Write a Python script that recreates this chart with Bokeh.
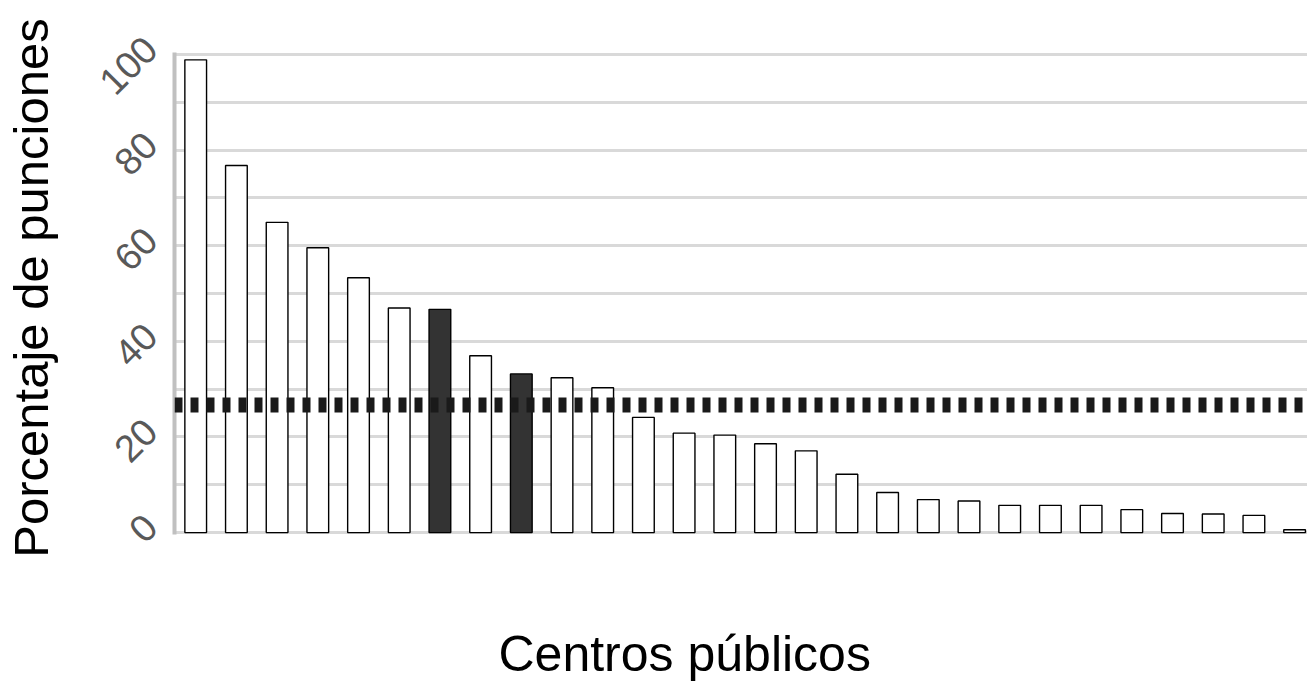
import math
from bokeh.plotting import figure
from bokeh.models import Range1d, FixedTicker, Span, LinearAxis, Title
from bokeh.embed import file_html
from bokeh.resources import INLINE

# ---- data ----
centros = [str(i) for i in range(1, 29)]
porcentajes = [98.9, 76.8, 64.9, 59.6, 53.3, 47.0, 46.7, 37.0, 33.2, 32.4,
               30.3, 24.1, 20.8, 20.4, 18.6, 17.1, 12.2, 8.4, 6.9, 6.6,
               5.7, 5.7, 5.7, 4.8, 4.0, 3.9, 3.6, 0.6]
destacados = ["7", "9"]
media = 26.7
ticks_y = [0, 20, 40, 60, 80, 100]
rejilla_y = [0, 10, 20, 30, 40, 50, 60, 70, 80, 90, 100]
titulo_x = "Centros públicos"
titulo_y = "Porcentaje de punciones"

FONT = "Liberation Sans"

xs = [i + 1 for i in range(len(centros))]
colores = ["#333333" if c in destacados else "white" for c in centros]

p = figure(width=1307, height=683, output_backend="svg", toolbar_location=None,
           x_range=Range1d(0.479, 28.317), y_range=Range1d(-0.4, 102.74),
           min_border_left=174, min_border_right=0, min_border_top=41,
           min_border_bottom=149, y_axis_location=None)
p.outline_line_color = None
p.background_fill_color = "white"
p.border_fill_color = "white"

p.vbar(x=xs, top=porcentajes, width=0.533, fill_color=colores,
       line_color="black", line_width=1.4)

p.add_layout(Span(location=media, dimension="width", line_color="#1a1a1a",
                  line_width=15, line_dash="8 8"))

p.ygrid.ticker = FixedTicker(ticks=rejilla_y)
p.ygrid.grid_line_color = "#d9d9d9"
p.ygrid.grid_line_width = 3
p.ygrid.level = "underlay"
p.xgrid.visible = False

# axis line only (main range)
linea = LinearAxis(ticker=FixedTicker(ticks=[]), bounds=(-0.4, 100.4))
linea.axis_line_color = "#c0c0c0"
linea.axis_line_width = 4
linea.major_tick_out = 0
linea.major_tick_in = 0
linea.minor_tick_out = 0
linea.minor_tick_in = 0
linea.major_label_standoff = 0
linea.major_label_text_font_size = "0px"
p.add_layout(linea, "left")

# tick labels sit slightly above their gridline (as in the original chart)
p.extra_y_ranges = {"etiquetas": Range1d(-0.4 - 2.5, 102.74 - 2.5)}
ya = LinearAxis(y_range_name="etiquetas")
ya.ticker = FixedTicker(ticks=ticks_y)
ya.major_label_orientation = math.pi / 4
ya.major_label_text_font = FONT
ya.major_label_text_font_size = "38px"
ya.major_label_text_color = "#595959"
ya.major_label_standoff = 24
ya.major_tick_line_color = None
ya.major_tick_out = 0
ya.major_tick_in = 0
ya.minor_tick_line_color = None
ya.axis_line_color = None
ya.axis_label = titulo_y
ya.axis_label_text_font = FONT
ya.axis_label_text_font_size = "49px"
ya.axis_label_text_font_style = "normal"
ya.axis_label_text_color = "black"
ya.axis_label_standoff = 26
p.add_layout(ya, "left")

# bottom: invisible x axis, a blank spacer band, then the axis title
xa = p.xaxis[0]
xa.ticker = FixedTicker(ticks=[])
xa.major_tick_line_color = None
xa.minor_tick_line_color = None
xa.major_tick_out = 0
xa.major_tick_in = 0
xa.axis_line_color = None
xa.major_label_standoff = 0
xa.major_label_text_font_size = "0px"

p.add_layout(Title(text=" ", text_font_size="1px", standoff=86), "below")
p.add_layout(Title(text=titulo_x, align="left", offset=324, text_font=FONT,
                   text_font_size="50px", text_font_style="normal",
                   text_color="black", vertical_align="bottom", standoff=0),
             "below")

open("out.html", "w").write(file_html(p, INLINE))
